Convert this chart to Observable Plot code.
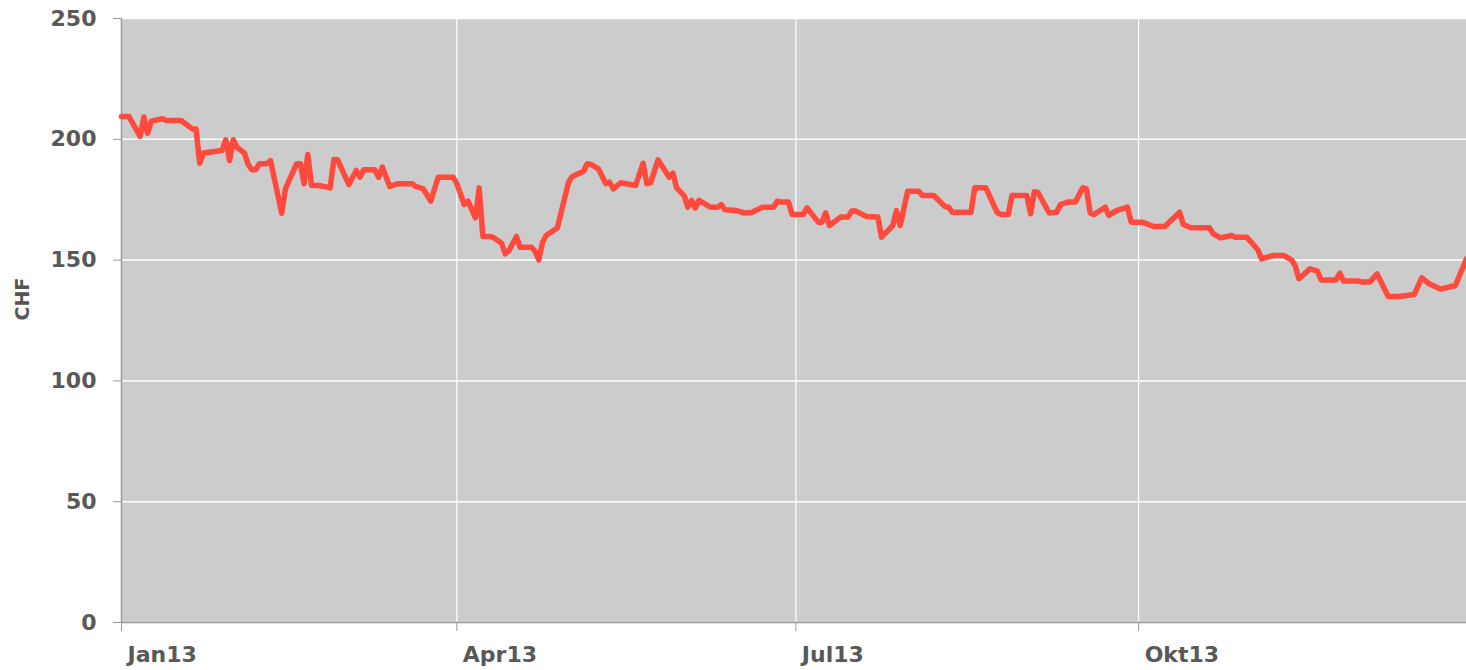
<!DOCTYPE html>
<html>
<head>
<meta charset="utf-8">
<script src="https://cdn.jsdelivr.net/npm/d3@7"></script>
<script src="https://cdn.jsdelivr.net/npm/@observablehq/plot@0.6"></script>
<style>
  html, body { margin: 0; padding: 0; background: #fff; }
  #chart { width: 1466px; height: 670px; }
</style>
</head>
<body>
<div id="chart"></div>
<script>
const dates = [
  "2013-01-01","2013-01-03","2013-01-06","2013-01-07","2013-01-08","2013-01-09","2013-01-12","2013-01-13",
  "2013-01-17","2013-01-20","2013-01-21","2013-01-22","2013-01-23","2013-01-28","2013-01-29","2013-01-30",
  "2013-01-31","2013-02-01","2013-02-03","2013-02-04","2013-02-05","2013-02-06","2013-02-07","2013-02-09",
  "2013-02-10","2013-02-13","2013-02-14","2013-02-17","2013-02-18","2013-02-19","2013-02-20","2013-02-21",
  "2013-02-23","2013-02-26","2013-02-27","2013-02-28","2013-03-03","2013-03-05","2013-03-06","2013-03-07",
  "2013-03-10","2013-03-11","2013-03-12","2013-03-14","2013-03-16","2013-03-20","2013-03-21","2013-03-23",
  "2013-03-25","2013-03-27","2013-03-31","2013-04-01","2013-04-03","2013-04-04","2013-04-06","2013-04-07",
  "2013-04-08","2013-04-10","2013-04-11","2013-04-13","2013-04-14","2013-04-15","2013-04-17","2013-04-18",
  "2013-04-21","2013-04-22","2013-04-23","2013-04-24","2013-04-25","2013-04-28","2013-05-01","2013-05-02",
  "2013-05-05","2013-05-06","2013-05-07","2013-05-09","2013-05-11","2013-05-12","2013-05-13","2013-05-15",
  "2013-05-19","2013-05-21","2013-05-22","2013-05-23","2013-05-25","2013-05-28","2013-05-29","2013-05-30",
  "2013-06-01","2013-06-02","2013-06-03","2013-06-04","2013-06-05","2013-06-08","2013-06-10","2013-06-11",
  "2013-06-12","2013-06-15","2013-06-17","2013-06-19","2013-06-22","2013-06-25","2013-06-26","2013-06-27",
  "2013-06-29","2013-06-30","2013-07-03","2013-07-04","2013-07-07","2013-07-08","2013-07-09","2013-07-10",
  "2013-07-13","2013-07-15","2013-07-16","2013-07-17","2013-07-20","2013-07-23","2013-07-24","2013-07-27",
  "2013-07-28","2013-07-29","2013-07-31","2013-08-03","2013-08-04","2013-08-07","2013-08-10","2013-08-11",
  "2013-08-12","2013-08-17","2013-08-18","2013-08-21","2013-08-24","2013-08-25","2013-08-27","2013-08-28",
  "2013-09-01","2013-09-02","2013-09-03","2013-09-04","2013-09-07","2013-09-09","2013-09-10","2013-09-12",
  "2013-09-14","2013-09-16","2013-09-17","2013-09-18","2013-09-19","2013-09-22","2013-09-23","2013-09-25",
  "2013-09-28","2013-09-29","2013-10-02","2013-10-05","2013-10-08","2013-10-12","2013-10-13","2013-10-15",
  "2013-10-20","2013-10-21","2013-10-23","2013-10-26","2013-10-27","2013-10-30","2013-11-02","2013-11-03",
  "2013-11-06","2013-11-09","2013-11-11","2013-11-12","2013-11-13","2013-11-16","2013-11-18","2013-11-19",
  "2013-11-23","2013-11-24","2013-11-25","2013-11-29","2013-11-30","2013-12-02","2013-12-04","2013-12-07",
  "2013-12-10","2013-12-14","2013-12-16","2013-12-18","2013-12-21","2013-12-25","2013-12-28"
];
const prices = [
  209.4,209.4,201.2,209.2,202.5,207.5,208.5,207.8,
  207.8,204.3,204.3,190.1,194.3,195.4,199.8,191.2,
  199.8,196.7,194.3,189.6,187.4,187.4,189.9,189.9,
  191.2,169.4,179.5,189.9,189.9,181.6,193.7,180.9,
  180.9,179.9,191.6,191.5,181.3,187.1,184.3,187.4,
  187.4,184.3,188.5,180.5,181.6,181.6,180.5,179.5,
  174.4,184.3,184.3,181.6,173.0,174.4,167.5,179.9,
  159.8,159.8,159.2,157.0,152.6,154.0,159.8,155.3,
  155.3,153.7,150.1,157.4,160.2,163.4,182.3,184.6,
  186.8,189.9,189.6,187.8,181.6,182.3,179.5,182.0,
  180.9,190.1,181.6,182.0,191.5,184.3,186.0,179.9,
  176.7,171.9,174.7,171.6,174.7,171.9,171.9,173.0,
  170.8,170.5,169.6,169.6,171.9,171.9,174.4,174.0,
  174.0,168.9,168.9,171.6,165.7,165.7,169.6,164.3,
  167.8,167.8,170.3,170.3,168.0,167.8,159.5,164.3,
  170.5,164.3,178.5,178.5,176.7,176.7,172.2,171.9,
  169.8,169.8,179.9,179.9,169.8,168.9,168.9,176.7,
  176.7,169.2,178.3,178.0,169.5,169.8,173.0,174.0,
  174.0,179.9,179.5,169.5,168.9,171.9,168.5,170.5,
  171.9,165.7,165.7,163.9,163.9,169.8,164.7,163.4,
  163.4,160.9,159.2,160.2,159.5,159.5,154.3,150.5,
  151.9,151.9,150.1,147.8,142.3,146.4,145.4,141.8,
  141.8,144.6,141.3,141.3,140.9,140.9,144.3,134.9,
  134.9,135.8,142.7,140.2,138.0,139.5,150.5
];
const yTicks = [0, 50, 100, 150, 200, 250];
const xTickDates = ["2013-01-01", "2013-04-01", "2013-07-01", "2013-10-01"];
const xTickLabels = ["Jan13", "Apr13", "Jul13", "Okt13"];
const yLabel = "CHF";

const data = dates.map((d, i) => ({date: new Date(d + "T00:00:00Z"), value: prices[i]}));
const xTicks = xTickDates.map(d => new Date(d + "T00:00:00Z"));
const xDomain = [new Date("2013-01-01T00:00:00Z"), new Date("2013-12-28T00:00:00Z")];

const chart = Plot.plot({
  width: 1466,
  height: 670,
  marginLeft: 121,
  marginRight: 0,
  marginTop: 18,
  marginBottom: 48,
  style: {fontFamily: "'DejaVu Sans', sans-serif", fontWeight: "bold", fontSize: "22px", color: "#595959", background: "#fff"},
  x: {type: "utc", domain: xDomain},
  y: {domain: [0, 250]},
  marks: [
    Plot.frame({fill: "#cccccc", stroke: null}),
    Plot.gridY(yTicks, {stroke: "#ffffff", strokeOpacity: 1, strokeWidth: 1.5}),
    Plot.gridX(xTicks, {stroke: "#ffffff", strokeOpacity: 1, strokeWidth: 1.2}),
    Plot.axisY(yTicks, {tickSize: 8, tickPadding: 17, stroke: "#999", label: null, fill: "#595959"}),
    Plot.axisX(xTicks, {tickSize: 9, stroke: "#999", label: null, tickFormat: () => ""}),
    Plot.axisX(xTicks, {tickSize: 0, tickPadding: 24, label: null, textAnchor: "start", dx: 6,
      tickFormat: (d, i) => xTickLabels[i], fill: "#595959"}),
    Plot.ruleY([0], {stroke: "#999", strokeWidth: 1.5}),
    Plot.ruleX([xDomain[0]], {stroke: "#999", strokeWidth: 1.5}),
    Plot.text([yLabel], {frameAnchor: "left", dx: -99, rotate: -90, fontSize: 19, fill: "#555", fontWeight: "bold"}),
    Plot.line(data, {x: "date", y: "value", stroke: "#ff4a3d", strokeWidth: 5.5, strokeLinejoin: "round", strokeLinecap: "round"})
  ]
});
document.getElementById("chart").appendChild(chart);
</script>
</body>
</html>
